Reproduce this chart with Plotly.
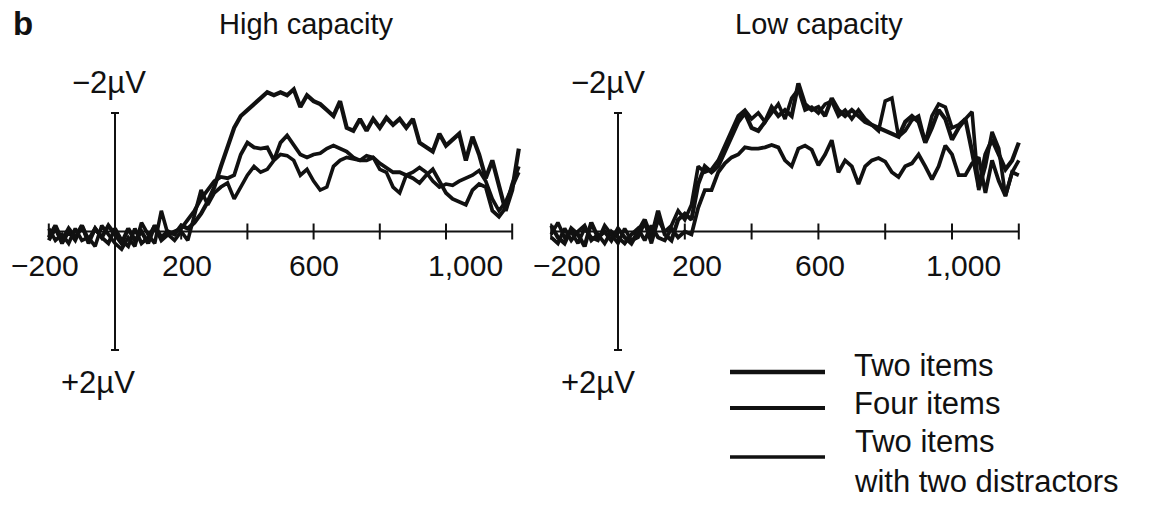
import plotly.graph_objects as go

# ---------------- data ----------------
T = list(range(-200, 1221, 20))          # ms, high-capacity panel
T_LOW = T[:-1]                           # ms, low-capacity panel (ends at 1200)

HIGH_FOUR = [0.1, -0.1, 0.15, -0.05, 0.1, -0.1, 0.15, -0.05, 0.1, -0.1,
             0.05, 0.2, -0.05, 0.15, 0.0, 0.2, -0.1, 0.1, 0.0, 0.05,
             -0.1, -0.05, -0.15, -0.3, -0.5, -0.75, -1.1, -1.45, -1.75, -1.95,
             -2.05, -2.15, -2.25, -2.35, -2.3, -2.35, -2.3, -2.4, -2.1, -2.3,
             -2.2, -2.15, -2.05, -1.95, -2.2, -1.75, -1.7, -1.9, -1.7, -1.9,
             -1.75, -1.92, -1.8, -1.9, -1.75, -1.9, -1.5, -1.42, -1.35, -1.65,
             -1.45, -1.55, -1.65, -1.2, -1.6, -1.3, -0.9, -1.2, -0.75, -0.35,
             -0.7, -1.4]
HIGH_TWO = [0.15, -0.05, 0.2, 0.0, 0.15, -0.1, 0.2, -0.05, 0.1, 0.2,
            -0.05, 0.15, 0.25, -0.05, 0.2, 0.1, -0.1, 0.15, 0.05, 0.0,
            -0.05, -0.2, -0.35, -0.55, -0.7, -0.85, -0.92, -0.9, -0.95, -1.3,
            -1.5, -1.42, -1.4, -1.42, -1.2, -1.5, -1.62, -1.45, -1.3, -1.25,
            -1.3, -1.32, -1.4, -1.45, -1.4, -1.35, -1.25, -1.2, -1.2, -1.25,
            -1.15, -1.08, -1.0, -1.0, -0.95, -0.9, -0.82, -0.95, -1.05, -0.85,
            -0.65, -0.55, -0.5, -0.45, -0.7, -0.8, -0.75, -0.35, -0.25, -0.4,
            -0.8, -1.1]
HIGH_DIST = [-0.05, 0.15, 0.05, 0.2, -0.05, 0.15, 0.1, 0.25, -0.1, 0.05,
             0.2, 0.3, 0.1, 0.25, -0.15, 0.05, 0.2, -0.35, 0.05, 0.15,
             0.0, 0.15, -0.3, -0.7, -0.45, -0.65, -0.75, -0.82, -0.55, -0.75,
             -0.95, -1.1, -1.0, -1.05, -1.2, -1.3, -1.28, -1.2, -0.95, -1.05,
             -0.85, -0.7, -0.75, -1.1, -1.2, -1.25, -1.22, -1.2, -1.28, -1.25,
             -1.05, -1.0, -0.75, -0.65, -0.95, -1.0, -1.08, -1.0, -0.85, -0.75,
             -0.8, -0.78, -0.85, -0.9, -0.95, -1.03, -0.85, -0.55, -0.35, -0.5,
             -0.75, -1.0]

LOW_TWO = [0.1, 0.2, -0.05, 0.15, 0.0, -0.1, 0.15, 0.05, 0.2, 0.0,
           0.1, 0.2, 0.05, -0.05, 0.15, -0.1, 0.1, 0.15, -0.05, 0.1,
           0.0, 0.05, -0.4, -0.7, -0.7, -1.0, -1.15, -1.25, -1.3, -1.42,
           -1.4, -1.4, -1.42, -1.46, -1.42, -1.2, -1.1, -1.4, -1.45, -1.38,
           -1.12, -1.3, -1.54, -1.0, -1.2, -1.1, -0.8, -1.1, -1.2, -1.24,
           -1.18, -1.0, -0.92, -1.1, -1.15, -1.3, -1.1, -0.88, -1.1, -1.45,
           -1.3, -0.95, -0.95, -1.15, -1.25, -0.65, -1.2, -0.85, -0.6, -1.0,
           -0.95]
LOW_FOUR = [-0.1, 0.1, 0.2, -0.05, 0.05, 0.25, -0.15, 0.1, 0.0, 0.15,
            -0.05, 0.1, 0.2, 0.0, -0.2, 0.1, -0.35, 0.05, 0.15, -0.2,
            -0.3, -0.2, -0.8, -1.1, -1.0, -1.1, -1.35, -1.6, -1.85, -2.0,
            -1.75, -1.7, -1.85, -2.1, -1.95, -2.05, -1.95, -2.5, -2.15, -2.05,
            -2.1, -1.95, -2.25, -2.05, -1.95, -2.05, -1.95, -1.85, -1.8, -1.75,
            -1.7, -1.65, -1.6, -1.85, -1.95, -1.85, -1.5, -1.75, -2.05, -1.9,
            -1.55, -1.75, -1.9, -1.35, -0.75, -1.3, -1.55, -1.3, -1.05, -1.2,
            -1.5]
LOW_DIST = [0.05, -0.15, 0.1, 0.0, 0.2, -0.05, 0.1, 0.15, -0.1, 0.05,
            0.2, -0.05, 0.15, 0.1, -0.15, 0.2, -0.2, 0.0, -0.1, -0.35,
            -0.2, -0.45, -1.1, -1.0, -1.05, -1.2, -1.45, -1.7, -1.95, -2.05,
            -1.9, -2.0, -1.85, -2.0, -2.15, -1.9, -2.25, -2.4, -2.05, -2.1,
            -2.0, -2.15, -2.2, -1.95, -2.05, -1.9, -2.05, -1.9, -1.8, -1.7,
            -2.2, -2.25, -1.6, -1.7, -1.88, -1.95, -1.5, -1.95, -2.15, -2.1,
            -1.75, -1.8, -1.9, -2.02, -0.7, -1.1, -1.68, -1.4, -0.6, -1.0,
            -1.2]

SERIES_NAMES = ["Two items", "Four items", "Two items<br>with two distractors"]
PANEL_TITLES = ["High capacity", "Low capacity"]
TICK_VALUES = [-200, 200, 400, 600, 800, 1000, 1200]
TICK_LABEL_VALUES = [-200, 200, 600, 1000]
TICK_LABELS = ["\u2212200", "200", "600", "1,000"]
Y_LABEL_VALUES = [-2, 2]
Y_LABELS = ["\u22122\u00b5V", "+2\u00b5V"]
X_AXIS_SPAN = [-200, 1200]

# ---------------- geometry / style ----------------
W, H = 1150, 506
FONT = "Liberation Sans, Arial, Helvetica, sans-serif"
INK = "#111111"
Y0_PX, PX_PER_UV = 231.5, 59.25
PANELS = [
    dict(x0_px=115, k=0.331, dom_px=(0, 531), xa="x", ya="y",
         label_shift=[-4, 6, 0, 19], ylab_shift=[-6, -17]),
    dict(x0_px=618, k=0.334, dom_px=(535, 1150), xa="x2", ya="y2",
         label_shift=[16, 12, 2, 11], ylab_shift=[-10, -20]),
]
WIDTHS = [3.8, 4.2, 3.6]
LEG_WIDTHS = [4.5, 4.0, 3.5]

y_range = [(H - Y0_PX) / PX_PER_UV, (0 - Y0_PX) / PX_PER_UV]

fig = go.Figure()
data_sets = [(T, [HIGH_TWO, HIGH_FOUR, HIGH_DIST]),
             (T_LOW, [LOW_TWO, LOW_FOUR, LOW_DIST])]

shapes, annotations = [], []
layout_axes = {}
for p, panel in enumerate(PANELS):
    tx, ys = data_sets[p]
    for s, yv in enumerate(ys):
        fig.add_trace(go.Scatter(x=tx, y=yv, mode="lines", name=SERIES_NAMES[s],
                                 line=dict(color=INK, width=WIDTHS[s]),
                                 xaxis=panel["xa"], yaxis=panel["ya"],
                                 showlegend=False, hoverinfo="skip"))
    d0, d1 = panel["dom_px"]
    xr = [(d0 - panel["x0_px"]) / panel["k"], (d1 - panel["x0_px"]) / panel["k"]]
    sfx = "" if p == 0 else "2"
    layout_axes["xaxis" + sfx] = dict(domain=[d0 / W, d1 / W], range=xr, visible=False,
                                      anchor="y" + sfx, fixedrange=True)
    layout_axes["yaxis" + sfx] = dict(domain=[0, 1], range=y_range, visible=False,
                                      anchor="x" + sfx, fixedrange=True)
    xa, ya = panel["xa"], panel["ya"]
    line = dict(color=INK, width=2)
    # horizontal axis at 0 µV
    shapes.append(dict(type="line", xref=xa, yref=ya, x0=X_AXIS_SPAN[0], x1=X_AXIS_SPAN[1],
                       y0=0, y1=0, line=line, layer="below"))
    tick_half = 8 / PX_PER_UV
    for tv in TICK_VALUES:
        shapes.append(dict(type="line", xref=xa, yref=ya, x0=tv, x1=tv,
                           y0=-tick_half, y1=tick_half, line=line, layer="below"))
    # vertical axis at 0 ms
    shapes.append(dict(type="line", xref=xa, yref=ya, x0=0, x1=0,
                       y0=Y_LABEL_VALUES[0], y1=Y_LABEL_VALUES[1], line=line, layer="below"))
    cap = 4 / panel["k"]
    for yv in Y_LABEL_VALUES:
        shapes.append(dict(type="line", xref=xa, yref=ya, x0=-cap, x1=cap,
                           y0=yv, y1=yv, line=line, layer="below"))
    # tick labels
    for i, (tv, tl) in enumerate(zip(TICK_LABEL_VALUES, TICK_LABELS)):
        annotations.append(dict(x=tv, y=0, xref=xa, yref=ya, text=tl, showarrow=False,
                                xanchor="center", yanchor="middle",
                                xshift=panel["label_shift"][i], yshift=-34,
                                font=dict(family=FONT, size=30, color=INK)))
    # µV labels
    for i, (yv, yl) in enumerate(zip(Y_LABEL_VALUES, Y_LABELS)):
        annotations.append(dict(x=0, y=yv, xref=xa, yref=ya, text=yl, showarrow=False,
                                xanchor="center", yanchor="middle",
                                xshift=panel["ylab_shift"][i], yshift=31 if yv < 0 else -32,
                                font=dict(family=FONT, size=31, color=INK)))

# panel titles
for title, x_px in zip(PANEL_TITLES, [217, 733]):
    annotations.append(dict(x=x_px / W, y=1 - 24 / H, xref="paper", yref="paper", text=title,
                            showarrow=False, xanchor="left", yanchor="middle",
                            font=dict(family=FONT, size=29, color=INK)))
annotations.append(dict(x=11 / W, y=1 - 24 / H, xref="paper", yref="paper", text="<b>b</b>",
                        showarrow=False, xanchor="left", yanchor="middle",
                        font=dict(family=FONT, size=33, color=INK)))

# legend (drawn)
LEG_LINE_Y = [372, 408, 457]
LEG_TEXT_Y = [365, 403, 461]
for i, name in enumerate(SERIES_NAMES):
    shapes.append(dict(type="line", xref="paper", yref="paper", x0=730 / W, x1=825 / W,
                       y0=1 - LEG_LINE_Y[i] / H, y1=1 - LEG_LINE_Y[i] / H,
                       line=dict(color=INK, width=LEG_WIDTHS[i])))
    annotations.append(dict(x=852 / W, y=1 - LEG_TEXT_Y[i] / H, xref="paper", yref="paper",
                            text=name, showarrow=False, xanchor="left", yanchor="middle",
                            align="left",
                            font=dict(family=FONT, size=31, color=INK)))

fig.update_layout(width=W, height=H, margin=dict(l=0, r=0, t=0, b=0),
                  paper_bgcolor="white", plot_bgcolor="rgba(0,0,0,0)",
                  showlegend=False, shapes=shapes, annotations=annotations,
                  **layout_axes)
fig.write_html("out.html", config={"displayModeBar": False})
